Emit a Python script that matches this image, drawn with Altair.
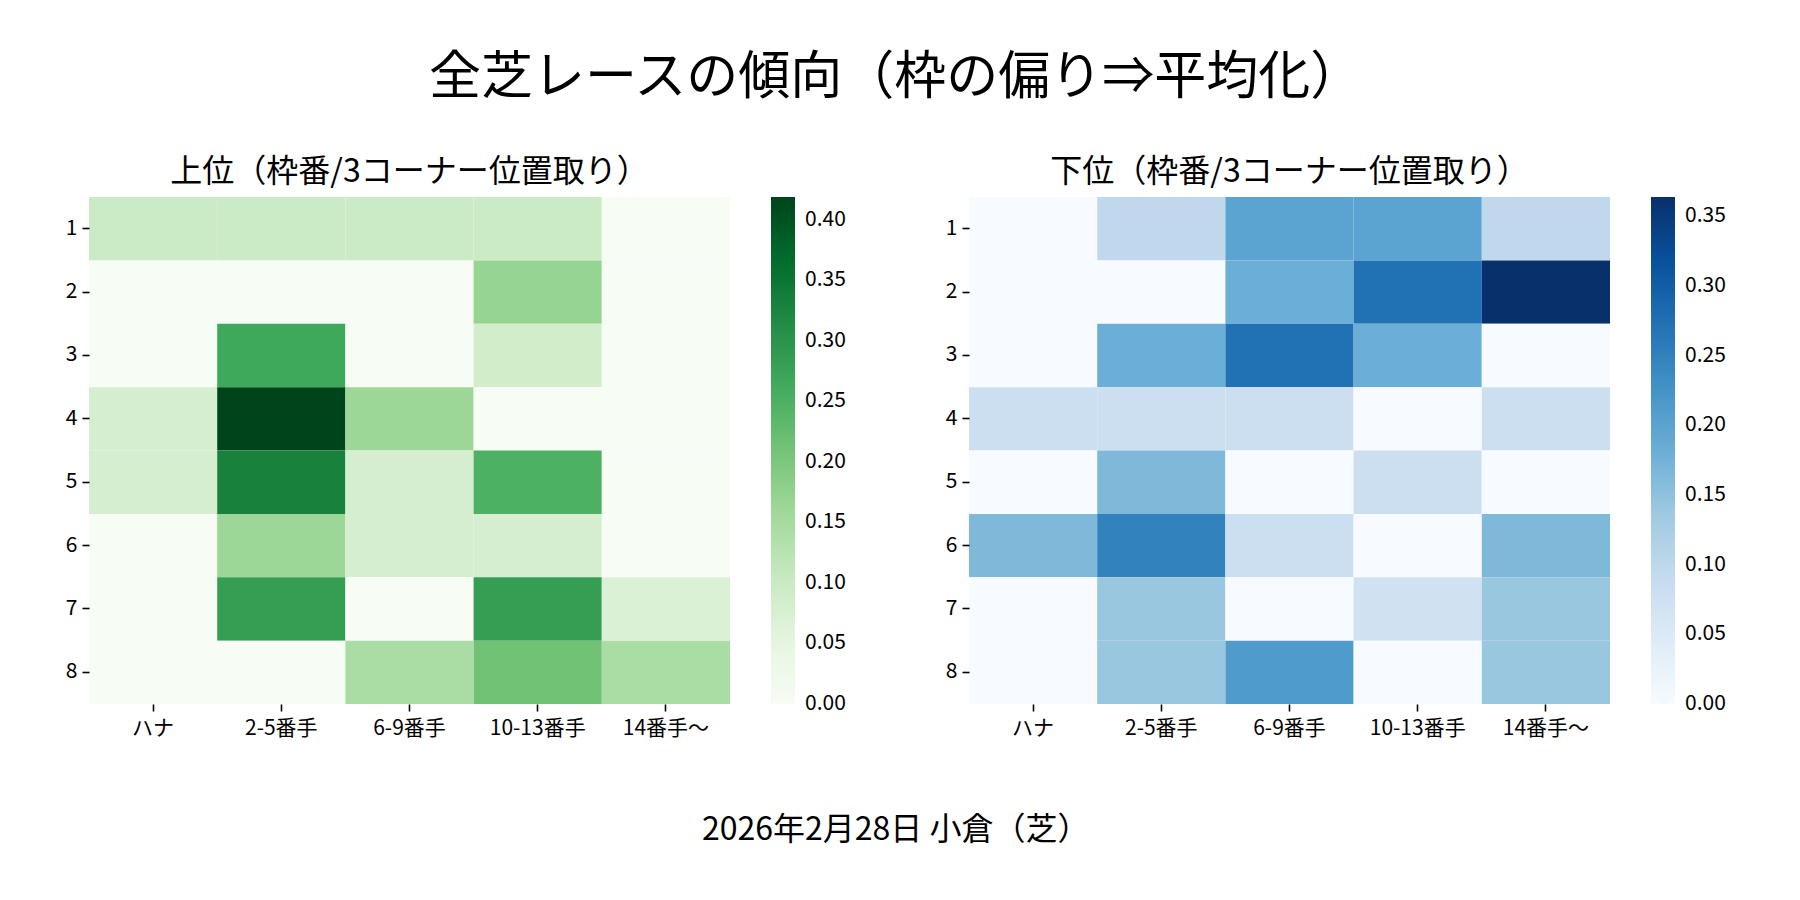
import altair as alt
import pandas as pd

FONT = "Noto Sans CJK JP"

positions = ["ハナ", "2-5番手", "6-9番手", "10-13番手", "14番手〜"]
frames = ["1", "2", "3", "4", "5", "6", "7", "8"]

# 上位 (rows = 枠番 1..8, cols = positions)
top_vals = [
    [0.098, 0.098, 0.098, 0.098, 0.000],
    [0.000, 0.000, 0.000, 0.170, 0.000],
    [0.000, 0.267, 0.000, 0.088, 0.000],
    [0.081, 0.419, 0.163, 0.000, 0.000],
    [0.081, 0.330, 0.081, 0.250, 0.000],
    [0.000, 0.163, 0.081, 0.081, 0.000],
    [0.000, 0.283, 0.000, 0.283, 0.071],
    [0.000, 0.000, 0.145, 0.213, 0.145],
]

# 下位
bottom_vals = [
    [0.000, 0.098, 0.200, 0.200, 0.098],
    [0.000, 0.000, 0.182, 0.273, 0.364],
    [0.000, 0.182, 0.273, 0.182, 0.000],
    [0.081, 0.081, 0.081, 0.000, 0.081],
    [0.000, 0.164, 0.000, 0.081, 0.000],
    [0.164, 0.249, 0.081, 0.000, 0.164],
    [0.000, 0.141, 0.000, 0.072, 0.141],
    [0.000, 0.141, 0.213, 0.000, 0.141],
]

greens = ["#f7fcf5", "#e5f5e0", "#c7e9c0", "#a1d99b", "#74c476",
          "#41ab5d", "#238b45", "#006d2c", "#00441b"]
blues = ["#f7fbff", "#deebf7", "#c6dbef", "#9ecae1", "#6baed6",
         "#4292c6", "#2171b5", "#08519c", "#08306b"]

main_title = "全芝レースの傾向（枠の偏り⇒平均化）"
top_title = "上位（枠番/3コーナー位置取り）"
bottom_title = "下位（枠番/3コーナー位置取り）"
footer = "2026年2月28日 小倉（芝）"

W, H = 641, 507


def to_df(vals):
    rows = []
    for i, f in enumerate(frames):
        for j, p in enumerate(positions):
            rows.append({"frame": f, "pos": p, "value": vals[i][j]})
    return pd.DataFrame(rows)


def panel(vals, colors, title, ticks):
    df = to_df(vals)
    vmax = max(max(r) for r in vals)
    dom = [vmax * k / 8 for k in range(9)]
    dom[0] = -vmax * 0.0004  # keeps the 0.00 legend label centred on the bar end
    return alt.Chart(df).mark_rect(strokeWidth=0).encode(
        x=alt.X("pos:N", sort=positions,
                scale=alt.Scale(paddingInner=0, paddingOuter=0),
                axis=alt.Axis(title=None, labelAngle=0, orient="bottom", domain=False,
                              labelFontSize=21, tickSize=7, tickWidth=1.6, labelPadding=6)),
        y=alt.Y("frame:N", sort=frames,
                scale=alt.Scale(paddingInner=0, paddingOuter=0),
                axis=alt.Axis(title=None, labelAngle=0, domain=False,
                              labelFontSize=21, tickSize=7, tickWidth=1.6, labelPadding=5)),
        color=alt.Color("value:Q",
                        scale=alt.Scale(domain=dom, range=colors, interpolate="rgb"),
                        legend=alt.Legend(title=None, type="gradient", direction="vertical",
                                          orient="right", gradientLength=H,
                                          gradientThickness=24, offset=41, padding=0,
                                          values=ticks, format=".2f", labelFontSize=21,
                                          labelOffset=10, labelBaseline="middle",
                                          labelColor="black", labelFont=FONT,
                                          gradientStrokeWidth=0)),
    ).properties(
        width=W, height=H,
        title=alt.TitleParams(title, fontSize=32, fontWeight="normal", font=FONT,
                              anchor="middle", frame="group", offset=8, color="black"),
    )


left = panel(top_vals, greens, top_title, [0, 0.05, 0.10, 0.15, 0.20, 0.25, 0.30, 0.35, 0.40])
right = panel(bottom_vals, blues, bottom_title, [0, 0.05, 0.10, 0.15, 0.20, 0.25, 0.30, 0.35])

row = alt.hconcat(left, right, spacing=99).resolve_scale(color="independent").properties(
    title=alt.TitleParams(footer, orient="bottom", fontSize=32, fontWeight="normal",
                          font=FONT, anchor="middle", offset=77, color="black")
)

chart = alt.vconcat(row).properties(
    title=alt.TitleParams(main_title, fontSize=52, fontWeight="normal", font=FONT,
                          anchor="middle", offset=51, color="black"),
    padding={"left": 57, "top": 44, "right": 5, "bottom": 5},
).configure(font=FONT).configure_axis(
    labelFont=FONT, labelColor="black", tickColor="black",
).configure_view(stroke=None)

chart.save("out.html", embed_options={"renderer": "svg", "actions": False})
